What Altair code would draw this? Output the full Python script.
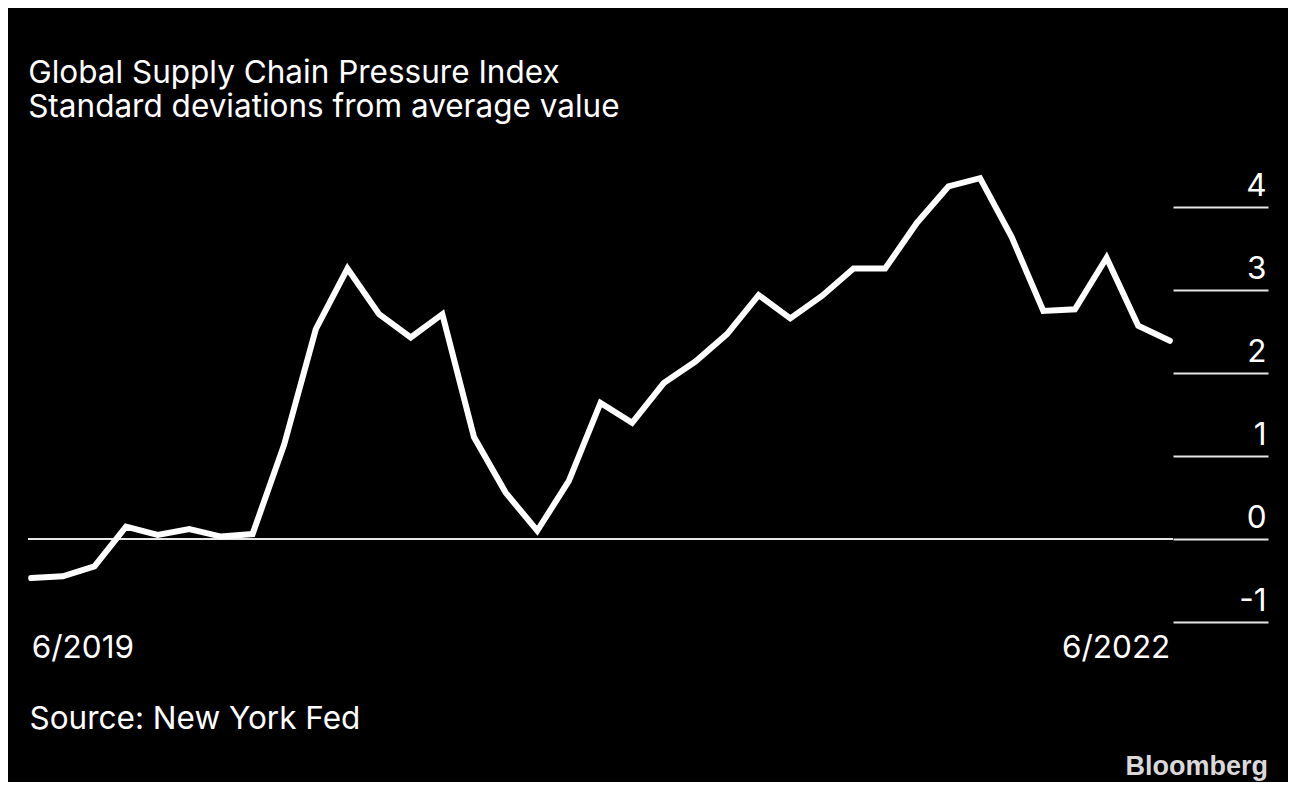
import altair as alt
import pandas as pd

# ---- data ----
months = [f"{(5 + i) % 12 + 1}/{2019 + (5 + i) // 12}" for i in range(37)]  # 6/2019 .. 6/2022
gscpi = [
    -0.47, -0.45, -0.33, 0.15, 0.05, 0.12, 0.03, 0.06,
    1.14, 2.53, 3.26, 2.71, 2.43, 2.71, 1.23, 0.56, 0.10, 0.70,
    1.64, 1.40, 1.88, 2.14, 2.47, 2.94, 2.66, 2.93, 3.26, 3.26,
    3.81, 4.25, 4.35, 3.64, 2.75, 2.77, 3.39, 2.57, 2.39,
]
x_tick_labels = ["6/2019", "6/2022"]
y_ticks = [-1, 0, 1, 2, 3, 4]
title_lines = ["Global Supply Chain Pressure Index", "Standard deviations from average value"]
source_text = "Source: New York Fed"
logo_text = "Bloomberg"

df = pd.DataFrame({"month": months, "gscpi": gscpi, "idx": list(range(len(months)))})

FONT = "Inter"
FS = 31.5
WHITE = "#ffffff"
GRID = "#e6e6e6"

x_enc = alt.X(
    "month:O",
    sort=None,
    scale=alt.Scale(type="point", padding=0.1),
    axis=alt.Axis(
        values=x_tick_labels,
        labelAngle=0,
        labelFlush=10,
        labelFont=FONT,
        labelFontSize=FS,
        labelColor=WHITE,
        labelPadding=10,
        labelBaseline="top",
        ticks=False,
        domain=False,
        grid=False,
        title=source_text,
        titleFont=FONT,
        titleFontSize=FS,
        titleFontWeight="normal",
        titleColor=WHITE,
        titleX=1,
        titleY=106,
        titleAlign="left",
        titleAnchor="start",
        titleBaseline="alphabetic",
    ),
)

y_enc = alt.Y(
    "gscpi:Q",
    scale=alt.Scale(domain=[-1, 4.4], nice=False, zero=False),
    axis=alt.Axis(
        orient="right",
        values=y_ticks,
        labelExpr="'' + datum.value",
        tickSize=95,
        tickWidth=2,
        tickColor=GRID,
        domain=False,
        grid=False,
        labelAlign="right",
        labelPadding=-2,
        labelBaseline="alphabetic",
        labelOffset=-12,
        labelFont=FONT,
        labelFontSize=FS,
        labelColor=WHITE,
        title=None,
    ),
)

line = alt.Chart(df).mark_line(
    color=WHITE, strokeWidth=6, strokeCap="round", strokeJoin="miter"
).encode(x=x_enc, y=y_enc, order="idx:Q")

zero = alt.Chart(pd.DataFrame({"v": [0]})).mark_rule(
    color=GRID, strokeWidth=2
).encode(y=alt.Y("v:Q"))

logo = alt.Chart(pd.DataFrame({"t": [logo_text]})).mark_text(
    font="Liberation Sans", fontWeight="bold", fontSize=27, color="#d9d9d9",
    align="right", baseline="alphabetic"
).encode(text="t:N", x=alt.value(1240), y=alt.value(601))

chart = alt.layer(zero, line, logo).properties(
    width=1145,
    height=448,
    autosize=alt.AutoSizeParams(type="none"),
    padding={"left": 20, "top": 166, "right": 115, "bottom": 160},
    title=alt.Title(
        title_lines,
        anchor="start",
        font=FONT,
        fontSize=FS,
        fontWeight="normal",
        color=WHITE,
        lineHeight=34,
        offset=43,
        dx=9,
    ),
).configure(background="#000000").configure_view(strokeWidth=0)

chart.save("out.html", embed_options={"renderer": "svg", "actions": False})
